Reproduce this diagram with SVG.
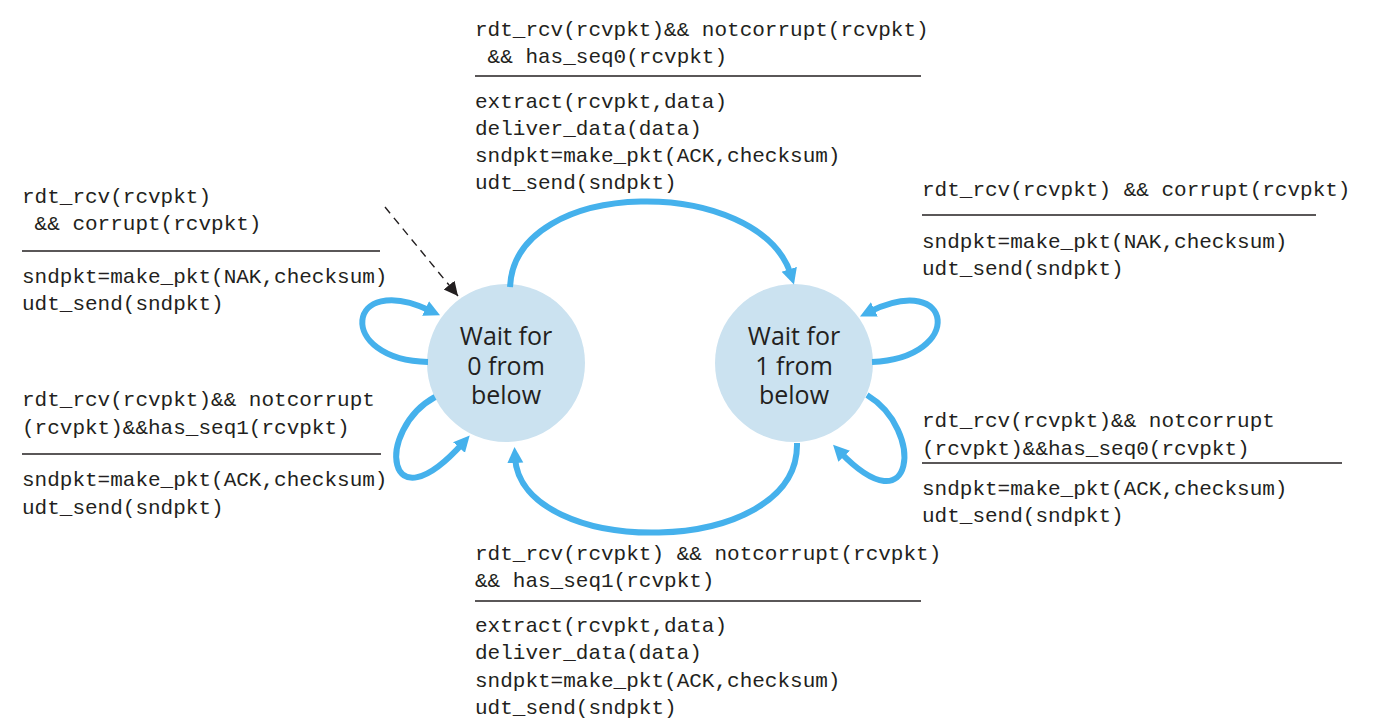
<svg xmlns="http://www.w3.org/2000/svg" width="1375" height="726" viewBox="0 0 1375 726">
<style>
.t{font-family:"Liberation Mono","Courier New",monospace;font-size:21px;fill:#231f20}
.n{font-family:"Open Sans","Noto Sans",sans-serif;font-size:25px;fill:#231f20;text-anchor:middle}
.r{stroke:#231f20;stroke-width:1.5}
.st{fill:#cbe2f0}
.e{fill:none;stroke:#45b1ec;stroke-width:6;marker-end:url(#ab)}
</style>
<defs>
<marker id="ab" markerUnits="userSpaceOnUse" markerWidth="18" markerHeight="18" refX="6" refY="8" orient="auto"><path d="M0,0 L16,8 L0,16 z" fill="#45b1ec"/></marker>
<marker id="ak" markerUnits="userSpaceOnUse" markerWidth="16" markerHeight="16" refX="14" refY="7" orient="auto"><path d="M0,0 L14,7 L0,14 z" fill="#231f20"/></marker>
</defs>
<rect width="1375" height="726" fill="#fff"/>
<g id="s0"><circle class="st" cx="506" cy="363" r="79"/><text class="n" x="506" y="345">Wait for</text><text class="n" x="506" y="375">0 from</text><text class="n" x="506" y="404">below</text></g>
<g id="s1"><circle class="st" cx="794" cy="363" r="79"/><text class="n" x="794" y="345">Wait for</text><text class="n" x="794" y="375">1 from</text><text class="n" x="794" y="404">below</text></g>
<g id="connectors">
<path class="e" d="M510,287 C515,175 760,175 791,275"/>
<path class="e" d="M797,443 C800,560 520,560 515,457"/>
<path class="e" d="M428,362 C335,360 345,270 431,311"/>
<path class="e" d="M435,397 C375,430 385,530 463,443"/>
<path class="e" d="M872,362 C965,358 955,270 869,312"/>
<path class="e" d="M867,395 C925,430 915,530 840,452"/>
<path d="M385,207 L458,296" fill="none" stroke="#231f20" stroke-width="1.4" stroke-dasharray="8,6" marker-end="url(#ak)"/>
</g>
<g id="l-top">
<text class="t" x="475" y="36">rdt_rcv(rcvpkt)&amp;&amp; notcorrupt(rcvpkt)</text>
<text class="t" x="475" y="63" xml:space="preserve"> &amp;&amp; has_seq0(rcvpkt)</text>
<line class="r" x1="475" y1="76" x2="921" y2="76"/>
<text class="t" x="475" y="108">extract(rcvpkt,data)</text>
<text class="t" x="475" y="135">deliver_data(data)</text>
<text class="t" x="475" y="162">sndpkt=make_pkt(ACK,checksum)</text>
<text class="t" x="475" y="189">udt_send(sndpkt)</text>
</g>
<g id="l-left-top">
<text class="t" x="22" y="203">rdt_rcv(rcvpkt)</text>
<text class="t" x="22" y="230" xml:space="preserve"> &amp;&amp; corrupt(rcvpkt)</text>
<line class="r" x1="22" y1="251" x2="380" y2="251"/>
<text class="t" x="22" y="283">sndpkt=make_pkt(NAK,checksum)</text>
<text class="t" x="22" y="310">udt_send(sndpkt)</text>
</g>
<g id="l-right-top">
<text class="t" x="922" y="196">rdt_rcv(rcvpkt) &amp;&amp; corrupt(rcvpkt)</text>
<line class="r" x1="922" y1="215" x2="1316" y2="215"/>
<text class="t" x="922" y="248">sndpkt=make_pkt(NAK,checksum)</text>
<text class="t" x="922" y="275">udt_send(sndpkt)</text>
</g>
<g id="l-left-bottom">
<text class="t" x="22" y="406">rdt_rcv(rcvpkt)&amp;&amp; notcorrupt</text>
<text class="t" x="22" y="434">(rcvpkt)&amp;&amp;has_seq1(rcvpkt)</text>
<line class="r" x1="22" y1="454" x2="381" y2="454"/>
<text class="t" x="22" y="486">sndpkt=make_pkt(ACK,checksum)</text>
<text class="t" x="22" y="514">udt_send(sndpkt)</text>
</g>
<g id="l-right-bottom">
<text class="t" x="922" y="427">rdt_rcv(rcvpkt)&amp;&amp; notcorrupt</text>
<text class="t" x="922" y="455">(rcvpkt)&amp;&amp;has_seq0(rcvpkt)</text>
<line class="r" x1="922" y1="463" x2="1342" y2="463"/>
<text class="t" x="922" y="495">sndpkt=make_pkt(ACK,checksum)</text>
<text class="t" x="922" y="522">udt_send(sndpkt)</text>
</g>
<g id="l-bottom">
<text class="t" x="475" y="560">rdt_rcv(rcvpkt) &amp;&amp; notcorrupt(rcvpkt)</text>
<text class="t" x="475" y="587">&amp;&amp; has_seq1(rcvpkt)</text>
<line class="r" x1="475" y1="601" x2="921" y2="601"/>
<text class="t" x="475" y="632">extract(rcvpkt,data)</text>
<text class="t" x="475" y="659">deliver_data(data)</text>
<text class="t" x="475" y="687">sndpkt=make_pkt(ACK,checksum)</text>
<text class="t" x="475" y="714">udt_send(sndpkt)</text>
</g>
</svg>
